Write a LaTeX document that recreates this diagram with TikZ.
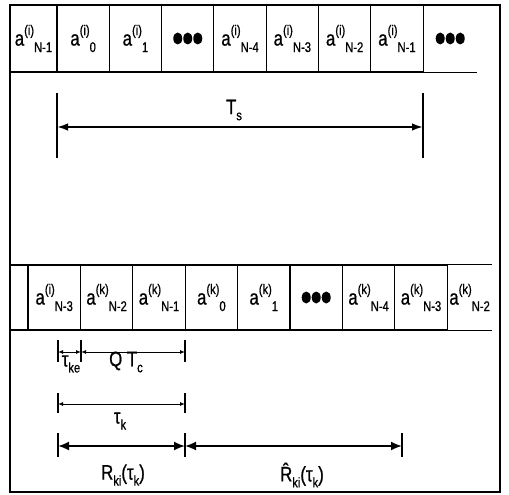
\documentclass[tikz,border=0pt]{standalone}
\usepackage{fontspec}
\setmainfont{Liberation Sans}[FakeStretch=0.8,FakeBold=0.8]
\usetikzlibrary{arrows.meta}
\newcommand{\subsz}{\fontsize{14}{14}\selectfont}
\newcommand{\asym}[2]{a\raisebox{10.5pt}{\subsz #1}\raisebox{-6.5pt}{\subsz #2}}
\newcommand{\lsub}[1]{\raisebox{-6pt}{\subsz #1}}
\begin{document}
\begin{tikzpicture}[x=1pt,y=-1pt,
  font=\fontsize{21}{23}\selectfont,
  frame/.style={line width=1.1pt},
  cellbox/.style={draw, line width=1.1pt, inner sep=0pt},
  toprow/.style={cellbox, minimum height=67pt},
  botrow/.style={cellbox, minimum height=65pt},
  opencell/.style={inner sep=0pt},
  cellline/.style={line width=1.1pt},
  tickline/.style={line width=1.3pt},
  dimts/.style={line width=1.8pt, {Latex[length=11pt,width=7.5pt]}-{Latex[length=11pt,width=7.5pt]}},
  dimthick/.style={line width=1.8pt, {Latex[length=11pt,width=9pt]}-{Latex[length=11pt,width=9pt]}},
  dimthin/.style={line width=0.9pt, {Latex[length=5pt,width=4pt]}-{Latex[length=5pt,width=4pt]}},
  lbl/.style={inner sep=0pt}
]
\useasboundingbox (0,0) rectangle (509,495);
\draw[frame] (10,5) rectangle (500,492);

% top row
\node[toprow, minimum width=47pt]   (t1) at (33.5,38.5)  {\asym{(i)}{N-1}};
\node[toprow, minimum width=52.3pt] (t2) at (83.15,38.5) {\asym{(i)}{0}};
\node[toprow, minimum width=52.3pt] (t3) at (135.45,38.5) {\asym{(i)}{1}};
\node[toprow, minimum width=52.3pt] (t4) at (187.75,38.5) {};
\node[toprow, minimum width=52.3pt] (t5) at (240.05,38.5) {\asym{(i)}{N-4}};
\node[toprow, minimum width=52.3pt] (t6) at (292.35,38.5) {\asym{(i)}{N-3}};
\node[toprow, minimum width=52.3pt] (t7) at (344.65,38.5) {\asym{(i)}{N-2}};
\node[toprow, minimum width=52.3pt] (t8) at (396.95,38.5) {\asym{(i)}{N-1}};
\node[opencell, minimum width=53.6pt, minimum height=67pt] (t9) at (450.2,38.5) {};
\draw[cellline] (t9.north west) -- (t9.north east) (t9.south west) -- (t9.south east);
\foreach \dx in {-10,0,10} {
  \fill ([xshift=\dx pt]t4.center) ellipse (4.5pt and 6pt);
  \fill ([xshift=\dx pt]t9.center) ellipse (4.5pt and 6pt);
}

% Ts dimension
\coordinate (tsA1) at (57,93);  \coordinate (tsA2) at (57,158);
\coordinate (tsB1) at (423,93); \coordinate (tsB2) at (423,158);
\coordinate (tsL) at (57,127);  \coordinate (tsR) at (423,127);
\draw[tickline] (tsA1) -- (tsA2) (tsB1) -- (tsB2);
\draw[dimts] (tsL) -- (tsR);
\node[lbl] (tslbl) at (234,110) {T\lsub{s}};

% bottom row
\node[botrow, minimum width=18pt]   (b0) at (19,297.5) {};
\node[botrow, minimum width=52.4pt] (b1) at (54.2,297.5) {\asym{(i)}{N-3}};
\node[botrow, minimum width=52.4pt] (b2) at (106.6,297.5) {\asym{(k)}{N-2}};
\node[botrow, minimum width=52.4pt] (b3) at (159,297.5) {\asym{(k)}{N-1}};
\node[botrow, minimum width=52.4pt] (b4) at (211.4,297.5) {\asym{(k)}{0}};
\node[botrow, minimum width=52.4pt] (b5) at (263.8,297.5) {\asym{(k)}{1}};
\node[botrow, minimum width=52.4pt] (b6) at (316.2,297.5) {};
\node[botrow, minimum width=52.4pt] (b7) at (368.6,297.5) {\asym{(k)}{N-4}};
\node[botrow, minimum width=52.4pt] (b8) at (421,297.5) {\asym{(k)}{N-3}};
\node[opencell, minimum width=44.8pt, minimum height=65pt] (b9) at (469.6,297.5) {\asym{(k)}{N-2}};
\draw[cellline] (b9.north west) -- (b9.north east) (b9.south west) -- (b9.south east);
\foreach \dx in {-10,0,10} {
  \fill ([xshift=\dx pt]b6.center) ellipse (4.5pt and 6pt);
}

% tau_ke and QT_c
\coordinate (p1a) at (58,340);  \coordinate (p1b) at (58,362);
\coordinate (p2a) at (81,340);  \coordinate (p2b) at (81,362);
\coordinate (p3a) at (185,340); \coordinate (p3b) at (185,362);
\draw[tickline] (p1a) -- (p1b) (p2a) -- (p2b) (p3a) -- (p3b);
\coordinate (d1) at (58,352); \coordinate (d2) at (81,352); \coordinate (d3) at (185,352);
\draw[dimthin] (d1) -- (d2);
\draw[dimthin] (d2) -- (d3);
\node[lbl] (tkelbl) at (71,364) {τ\lsub{ke}};
\node[lbl] (qtclbl) at (126,362) {Q T\lsub{c}};

% tau_k
\coordinate (q1a) at (58,393);  \coordinate (q1b) at (58,413);
\coordinate (q2a) at (185,393); \coordinate (q2b) at (185,413);
\draw[tickline] (q1a) -- (q1b) (q2a) -- (q2b);
\coordinate (e1) at (58,404); \coordinate (e2) at (185,404);
\draw[dimthin] (e1) -- (e2);
\node[lbl] (tklbl) at (120,421) {τ\lsub{k}};

% R and R-hat
\coordinate (r1a) at (58,433);  \coordinate (r1b) at (58,457);
\coordinate (r2a) at (185,433); \coordinate (r2b) at (185,457);
\coordinate (r3a) at (402,433); \coordinate (r3b) at (402,457);
\draw[tickline] (r1a) -- (r1b) (r2a) -- (r2b) (r3a) -- (r3b);
\coordinate (f1) at (58,446); \coordinate (f2) at (185,446); \coordinate (f3) at (402,446);
\draw[dimthick] (f1) -- (f2);
\draw[dimthick] (f2) -- (f3);
\node[lbl] (rlbl) at (123,475) {R\lsub{ki}(τ\lsub{k})};
\node[lbl] (rhlbl) at (302,475) {\^{R}\lsub{ki}(τ\lsub{k})};
\end{tikzpicture}
\end{document}
